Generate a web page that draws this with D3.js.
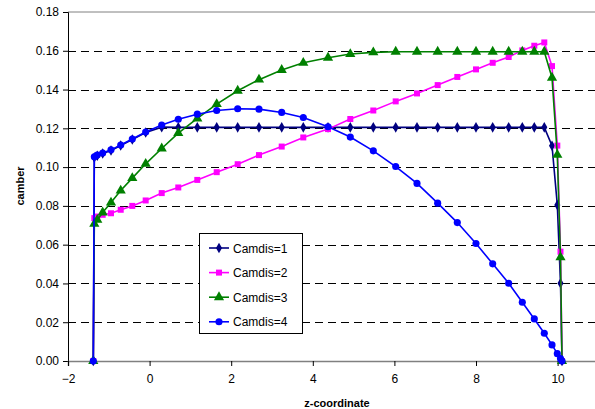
<!DOCTYPE html>
<html>
<head>
<meta charset="utf-8">
<script src="https://cdn.jsdelivr.net/npm/d3@7"></script>
<style>
  body { margin: 0; background: #fff; }
  svg { display: block; font-family: "Liberation Sans", Arial, sans-serif; }
</style>
</head>
<body>
<div id="chart"></div>
<script>
// z positions shared by every series
const zCoord = [-1.380, -1.355, -1.282, -1.150, -0.946, -0.708, -0.424, -0.096, 0.297, 0.703,
    1.169, 1.645, 2.159, 2.681, 3.238, 3.767, 4.373, 4.919, 5.483, 6.032,
    6.554, 7.061, 7.542, 8.000, 8.409, 8.801, 9.135, 9.429, 9.674, 9.863,
    9.993, 10.071, 10.108];

const camdis1 = [0, 0.1050, 0.1059, 0.1070, 0.1086, 0.1111, 0.1142, 0.1178, 0.1206, 0.1205,
    0.1205, 0.1205, 0.1205, 0.1205, 0.1205, 0.1205, 0.1205, 0.1205, 0.1205, 0.1205,
    0.1205, 0.1205, 0.1205, 0.1205, 0.1205, 0.1205, 0.1205, 0.1205, 0.1205, 0.1110,
    0.0805, 0.0401, 0];
const camdis2 = [0, 0.0737, 0.0745, 0.0754, 0.0762, 0.0780, 0.0800, 0.0828, 0.0866, 0.0895,
    0.0934, 0.0974, 0.1015, 0.1062, 0.1106, 0.1153, 0.1196, 0.1248, 0.1292, 0.1339,
    0.1380, 0.1423, 0.1465, 0.1504, 0.1538, 0.1568, 0.1602, 0.1626, 0.1643, 0.1521,
    0.1111, 0.0564, 0];
const camdis3 = [0, 0.0707, 0.0728, 0.0766, 0.0817, 0.0879, 0.0943, 0.1017, 0.1096, 0.1175,
    0.1251, 0.1325, 0.1394, 0.1451, 0.1501, 0.1538, 0.1564, 0.1583, 0.1592, 0.1595,
    0.1595, 0.1595, 0.1595, 0.1595, 0.1595, 0.1595, 0.1595, 0.1595, 0.1595, 0.1461,
    0.1063, 0.0535, 0];
const camdis4 = [0, 0.1053, 0.1062, 0.1073, 0.1089, 0.1114, 0.1145, 0.1181, 0.1217, 0.1247,
    0.1273, 0.1292, 0.1301, 0.1299, 0.1282, 0.1256, 0.1208, 0.1155, 0.1084, 0.1003,
    0.0916, 0.0814, 0.0714, 0.0606, 0.0501, 0.0401, 0.0303, 0.0217, 0.0143, 0.0083,
    0.0038, 0.0012, 0];

const seriesNames = ["Camdis=1", "Camdis=2", "Camdis=3", "Camdis=4"];
const seriesColors = ["#000080", "#ff00ff", "#008000", "#0000ff"];
const seriesSymbols = [d3.symbolDiamond, d3.symbolSquare, d3.symbolTriangle, d3.symbolCircle];
const seriesValues = [camdis1, camdis2, camdis3, camdis4];

const xTicks = [-2, 0, 2, 4, 6, 8, 10];
const yTicks = [0, 0.02, 0.04, 0.06, 0.08, 0.10, 0.12, 0.14, 0.16, 0.18];

const width = 595, height = 409;
const margin = { top: 12, left: 68, bottom: 48 };

const svg = d3.select("#chart").append("svg")
    .attr("width", width)
    .attr("height", height);

// plot area runs past the right edge of the picture (x max = 12)
const x = d3.scaleLinear().domain([-2, 12]).range([margin.left, margin.left + 14 * 40.8]);
const y = d3.scaleLinear().domain([0, 0.18]).range([height - margin.bottom, margin.top]);

// gridlines
svg.append("g")
    .selectAll("line")
    .data(yTicks.filter(t => t > 0 && t < 0.18))
    .enter().append("line")
    .attr("x1", x(-2)).attr("x2", x(12))
    .attr("y1", d => Math.round(y(d)) + 0.5).attr("y2", d => Math.round(y(d)) + 0.5)
    .attr("stroke", "#000")
    .attr("stroke-width", 1)
    .attr("stroke-dasharray", "8,5");

// top border
svg.append("line")
    .attr("x1", x(-2)).attr("x2", x(12))
    .attr("y1", y(0.18)).attr("y2", y(0.18))
    .attr("stroke", "#808080");

// axes
const yAxis = svg.append("g")
    .attr("transform", `translate(${x(-2)},0)`)
    .call(d3.axisLeft(y).tickValues(yTicks).tickFormat(d3.format(".2f")).tickSize(5).tickPadding(4));
const xAxis = svg.append("g")
    .attr("transform", `translate(0,${y(0)})`)
    .call(d3.axisBottom(x).tickValues(xTicks).tickSize(5).tickPadding(8));

[xAxis, yAxis].forEach(a => {
    a.selectAll("text").style("font-size", "12px").attr("fill", "#000")
        .style("font-family", "'Liberation Sans', Arial, sans-serif");
    a.selectAll("line").attr("stroke", "#000");
});
xAxis.select(".domain").attr("stroke", "#808080").attr("stroke-width", 1.5);
yAxis.select(".domain").attr("stroke", "#000");

// axis titles
svg.append("text")
    .attr("x", 337)
    .attr("y", 407)
    .attr("text-anchor", "middle")
    .style("font-size", "11px")
    .style("font-weight", "bold")
    .text("z-coordinate");

svg.append("text")
    .attr("transform", "rotate(-90)")
    .attr("x", -186)
    .attr("y", 24)
    .attr("text-anchor", "middle")
    .style("font-size", "11px")
    .style("font-weight", "bold")
    .text("camber");

// series
const line = d3.line().x(d => x(d[0])).y(d => y(d[1]));
const symbolSizes = [32, 36, 45, 40];

seriesValues.forEach((vals, i) => {
    const pts = zCoord.map((z, j) => [z, vals[j]]);
    const g = svg.append("g");
    g.append("path")
        .datum(pts)
        .attr("d", line)
        .attr("fill", "none")
        .attr("stroke", seriesColors[i])
        .attr("stroke-width", 1.6);
    g.selectAll(".mark")
        .data(pts)
        .enter().append("path")
        .attr("class", "mark")
        .attr("transform", d => `translate(${x(d[0])},${y(d[1])})`)
        .attr("d", d3.symbol().type(seriesSymbols[i]).size(symbolSizes[i]))
        .attr("fill", seriesColors[i]);
});

// legend
const legend = svg.append("g").attr("transform", "translate(199,233)");
legend.append("rect")
    .attr("x", 0.5).attr("y", 0.5)
    .attr("width", 103).attr("height", 100)
    .attr("fill", "#fff")
    .attr("stroke", "#000");

seriesNames.forEach((name, i) => {
    const row = legend.append("g").attr("transform", `translate(0,${15 + i * 24.6})`);
    row.append("line")
        .attr("x1", 10).attr("x2", 30)
        .attr("stroke", seriesColors[i])
        .attr("stroke-width", 1.6);
    row.append("path")
        .attr("transform", "translate(20,0)")
        .attr("d", d3.symbol().type(seriesSymbols[i]).size(symbolSizes[i]))
        .attr("fill", seriesColors[i]);
    row.append("text")
        .attr("x", 34)
        .attr("y", 4.5)
        .style("font-size", "12px")
        .text(name);
});
</script>
</body>
</html>
